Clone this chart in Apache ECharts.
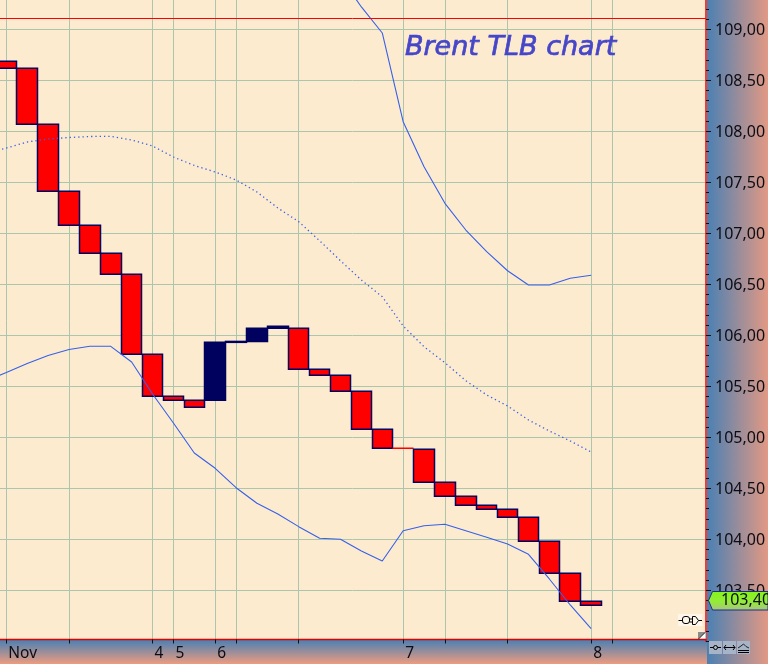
<!DOCTYPE html>
<html><head><meta charset="utf-8">
<style>html,body{margin:0;padding:0;background:#fdebd0;overflow:hidden}#c{width:768px;height:664px}</style>
<script src="https://cdn.jsdelivr.net/npm/echarts@6/dist/echarts.min.js"></script>
</head><body><div id="c"></div>
<script>
// x positions: one leading off-screen session, then 29 bars, then room to the axis edge
const axisLabels = ['', 'Nov','','','','','','','4','5','','6','','','','','','','','','7','','','','','','','','','8','','','','',''];
const gridSlots = [1,4,8,9,11,12,15,20,22,25,29,30];
const barOpen  = [108.686,108.618,108.069,107.412,107.078,106.804,106.598,105.814,105.402,105.363,105.363,105.931,105.940,106.069,106.069,105.667,105.608,105.451,105.078,104.892,104.882,104.559,104.422,104.333,104.294,104.216,103.980,103.667,103.392];
const barClose = [108.618,108.069,107.412,107.078,106.804,106.598,105.814,105.402,105.363,105.294,105.931,105.940,106.069,106.088,105.667,105.608,105.451,105.078,104.892,104.892,104.559,104.422,104.333,104.294,104.216,103.980,103.667,103.392,103.353];
const upperBand = [109.513,109.219,108.964,108.094,107.653,107.294,107.032,106.820,106.633,106.493,106.493,106.559,106.588];
const upperStartSlot = 17;
const middleBand = [107.782,107.836,107.895,107.925,107.939,107.949,107.951,107.915,107.856,107.748,107.665,107.601,107.523,107.405,107.248,107.114,106.927,106.731,106.542,106.378,106.091,105.888,105.731,105.555,105.415,105.307,105.170,105.062,104.964,104.856];
const lowerBand = [105.552,105.635,105.724,105.802,105.861,105.892,105.892,105.738,105.425,105.140,104.846,104.696,104.506,104.353,104.248,104.124,104.010,104.000,103.885,103.787,104.084,104.133,104.147,104.084,104.020,103.954,103.853,103.611,103.356,103.125];
const resistanceLevel = 109.106;
const lastPriceLabel = '103,40';
const chartTitle = 'Brent TLB chart';

const n = axisLabels.length;
const pad = (a, start) => { const r = new Array(n).fill(null); a.forEach((v,i)=>{r[start+i]=v}); return r; };
const candleData = axisLabels.map((_,i)=>{
  const k=i-1; if(k<0||k>=barOpen.length) return ['-','-','-','-'];
  const o=barOpen[k],c=barClose[k]; return [o,c,Math.min(o,c),Math.max(o,c)];
});
const NAVY='#00005e', BLUE='#3560ea', TXT='#0c0c14';
const panelH={type:'linear',x:0,y:0,x2:1,y2:0,colorStops:[{offset:0,color:'#4b80b3'},{offset:1,color:'#e29984'}]};
const panelV={type:'linear',x:0,y:0,x2:0,y2:1,colorStops:[{offset:0,color:'#4b80b3'},{offset:1,color:'#ec9c80'}]};
const black={stroke:'#000',lineWidth:1,fill:null};
function ln(x1,y1,x2,y2,z){return {type:'line',z:z||60,silent:true,shape:{x1,y1,x2,y2},style:black};}
const graphics=[
 {type:'rect',z:-5,shape:{x:0,y:640,width:707,height:24},style:{fill:panelV}},
 {type:'rect',z:-5,shape:{x:707,y:0,width:61,height:664},style:{fill:panelH}},
 {type:'text',z:50,x:405,y:34,style:{text:chartTitle,fill:'#4646c8',stroke:'#4646c8',lineWidth:0.7,font:'italic 27px "DejaVu Sans"'}},
 {type:'polygon',z:55,shape:{points:[[708.5,600.5],[712.5,591.5],[768,591.5],[768,610],[712.5,610]]},
   style:{stroke:'#1c2f80',lineWidth:1,fill:{type:'linear',x:0,y:0,x2:0,y2:1,colorStops:[{offset:0,color:'#84f518'},{offset:.55,color:'#94ec38'},{offset:1,color:'#a9c286'}]}}},
 {type:'text',z:56,x:721,y:592,style:{text:lastPriceLabel,fill:TXT,font:'16px "Noto Sans"'}},
 {type:'rect',z:55,shape:{x:678,y:614,width:24,height:12},style:{fill:'#fdf6ea'}},
 ln(678.5,620.5,682,620.5),
 {type:'rect',z:60,shape:{x:682.5,y:616.5,width:7,height:7,r:2.5},style:black},
 ln(689.5,619,692.5,619),ln(689.5,622,692.5,622),
 {type:'polyline',z:60,shape:{points:[[692.5,616.5],[695.5,616.5],[698.5,620.5],[695.5,624.5],[692.5,624.5],[692.5,616.5]]},style:black},
 ln(698.5,620.5,702,620.5),
 {type:'rect',z:55,shape:{x:698,y:632,width:8,height:7},style:{fill:'#8c8c8c'}},
 {type:'polygon',z:56,shape:{points:[[699,638.5],[705.5,632.5],[705.5,638.5]]},style:{fill:'#ffffff'}},
 {type:'line',z:57,shape:{x1:698.5,y1:639,x2:705,y2:632.5},style:{stroke:'#333',lineWidth:1}},
 {type:'rect',z:55,shape:{x:709,y:641,width:13,height:13},style:{fill:'#a7b4c7'}},
 {type:'rect',z:55,shape:{x:723,y:641,width:13,height:13},style:{fill:'#a7b4c7'}},
 {type:'rect',z:55,shape:{x:737,y:641,width:13,height:13},style:{fill:'#a7b4c7'}},
 ln(710,647.5,721,647.5),{type:'circle',z:60,shape:{cx:715.5,cy:647.5,r:2},style:{stroke:'#000',fill:'#a7b4c7'}},
 ln(724,647.5,735,647.5),
 {type:'polyline',z:60,shape:{points:[[726,645],[724,647.5],[726,650]]},style:black},
 {type:'polyline',z:60,shape:{points:[[733,645],[735,647.5],[733,650]]},style:black},
 {type:'polyline',z:60,shape:{points:[[738,648],[741,646],[743.5,644],[746,646.5],[749,648]]},style:{stroke:'#222',fill:null}},
 ln(738,650.5,749,650.5),ln(738,652.5,749,652.5)
];
const chart=echarts.init(document.getElementById('c'),null,{renderer:'canvas'});
chart.setOption({
 animation:false,backgroundColor:'#fdebd0',
 grid:{left:-25,right:62,top:-1.3,bottom:22.7,containLabel:false,outerBoundsMode:'none'},
 graphic:{elements:graphics},
 xAxis:{type:'category',data:axisLabels,boundaryGap:true,offset:-1.8,
  axisLine:{show:true,onZero:false,lineStyle:{color:'#e00000',width:1.3}},
  axisTick:{show:true,alignWithLabel:true,length:4,lineStyle:{color:'#111'},interval:(i)=>gridSlots.includes(i)},
  splitLine:{show:true,alignWithLabel:true,lineStyle:{color:'#abc6ac',width:1},interval:(i)=>gridSlots.includes(i)},
  axisLabel:{show:true,hideOverlap:false,interval:(i,v)=>v!=='',align:'left',margin:6,padding:[0,0,0,2],color:TXT,fontFamily:'Noto Sans',fontSize:15.5}},
 yAxis:{type:'value',position:'right',min:103,max:109.3,interval:0.5,scale:true,
  axisLine:{show:true,onZero:false,lineStyle:{color:'#f00000',width:1.5}},
  axisTick:{show:true,length:5,lineStyle:{color:'#111'}},
  minorTick:{show:true,splitNumber:5,length:3,lineStyle:{color:'#111'}},
  splitLine:{show:true,showMinLine:false,showMaxLine:false,lineStyle:{color:'#abc6ac',width:1}},
  axisLabel:{margin:9,verticalAlign:'top',padding:[-7,0,0,0],showMinLabel:false,showMaxLabel:false,color:TXT,fontFamily:'Noto Sans',fontSize:16,formatter:v=>v.toFixed(2).replace('.',',')}},
 series:[
  {name:'Brent',type:'candlestick',data:candleData,barWidth:21,z:2,
   itemStyle:{color:NAVY,color0:'#ff0000',borderColor:NAVY,borderColor0:NAVY,borderColorDoji:'#ff0000',borderWidth:1.5}},
  {name:'Upper',type:'line',data:pad(upperBand,upperStartSlot),showSymbol:false,symbol:'none',smooth:false,z:3,lineStyle:{color:BLUE,width:1.1},
   markLine:{silent:true,symbol:['none','none'],animation:false,label:{show:false},emphasis:{disabled:true},lineStyle:{color:'#ff0000',width:1,type:'solid',opacity:1},data:[{yAxis:resistanceLevel}]}},
  {name:'Middle',type:'line',data:pad(middleBand,0),showSymbol:false,symbol:'none',z:3,lineStyle:{color:BLUE,width:1.3,type:[1.3,3]}},
  {name:'Lower',type:'line',data:pad(lowerBand,0),showSymbol:false,symbol:'none',z:3,lineStyle:{color:BLUE,width:1.1}}
 ]
});
</script></body></html>
